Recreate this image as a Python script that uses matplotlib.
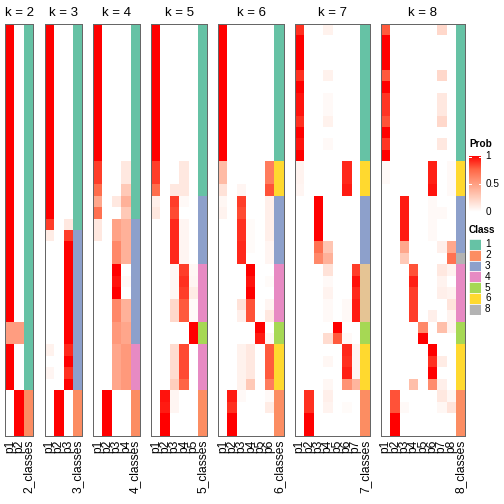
import numpy as np
import matplotlib
matplotlib.use("Agg")
import matplotlib.pyplot as plt
from matplotlib.colors import LinearSegmentedColormap

plt.rcParams['font.family'] = ['Liberation Sans', 'DejaVu Sans']

# membership probabilities, one list per column (36 samples, top to bottom)
k2_p1 = [1,1,1,1,1,1,1,1,1,1,1,1, 1,1,1,1,1,1,1,1,1,1,1,1, 1,1,.5,.5,1,1,1,1,0,0,0,0]
k2_p2 = [0,0,0,0,0,0,0,0,0,0,0,0, 0,0,0,0,0,0,0,0,0,0,0,0, 0,0,.5,.5,0,0,0,0,1,1,1,1]
k2_cls = [1,1,1,1,1,1,1,1,1,1,1,1, 1,1,1,1,1,1,1,1,1,1,1,1, 1,1,1,1,1,1,1,1,2,2,2,2]

k3_p1 = [1,1,1,1,1,1,1,1,1,1,1,1, 1,1,1,1,1,.85,.1,0,0,0,0,0, 0,0,0,0,.07,0,.05,0,0,0,0,0]
k3_p2 = [0,0,0,0,0,0,0,0,0,0,0,0, 0,0,0,0,0,0,0,0,0,0,0,0, 0,0,0,0,0,0,0,0,1,1,1,1]
k3_p3 = [0,0,0,0,0,0,0,0,0,0,0,0, 0,0,0,0,0,.12,.85,1,1,1,1,1, 1,1,1,1,.9,1,.88,1,0,0,0,0]
k3_cls = [1,1,1,1,1,1,1,1,1,1,1,1, 1,1,1,1,1,1,3,3,3,3,3,3, 3,3,3,3,3,3,3,3,2,2,2,2]

k4_p1 = [1,1,1,1,1,1,1,1,1,1,1,1, .85,.85,.72,.45,.7,.12,.12,0,0,0,0,0, 0,0,0,0,0,0,0,0,0,0,0,0]
k4_p2 = [0,0,0,0,0,0,0,0,0,0,0,0, 0,0,0,0,0,0,0,0,0,0,0,0, 0,0,0,0,0,0,0,0,1,1,1,1]
k4_p3 = [0,0,0,0,0,0,0,0,0,0,0,0, 0,0,0,.12,0,.48,.48,.6,.6,1,.95,1, .6,.6,.52,.52,.46,.46,.46,.46,0,0,0,0]
k4_p4 = [0,0,0,0,0,0,0,0,0,0,0,0, .12,.12,.28,.4,.28,.4,.4,.4,.4,0,.03,0, .4,.4,.46,.46,.52,.52,.52,.52,0,0,0,0]
k4_cls = [1,1,1,1,1,1,1,1,1,1,1,1, 1,1,1,1,1,3,3,3,3,3,3,3, 3,3,3,3,4,4,4,4,2,2,2,2]

k5_p1 = [1,1,1,1,1,1,1,1,1,1,1,1, .85,.85,.72,.08,.12,0,0,0,0,0,0,0, 0,0,0,0,0,0,0,0,0,0,0,0]
k5_p2 = [0,0,0,0,0,0,0,0,0,0,0,0, 0,0,0,0,0,0,0,0,0,0,0,0, 0,0,0,0,0,0,0,0,.95,.93,1,1]
k5_p3 = [0,0,0,0,0,0,0,0,0,0,0,0, 0,0,.12,.85,.82,.9,.9,.9,.9,.04,.04,.04, .2,.2,0,0,.18,.18,.18,.25,.05,.05,0,0]
k5_p4 = [0,0,0,0,0,0,0,0,0,0,0,0, .12,.12,.12,.03,0,.05,.05,.05,.05,.85,.88,.85, .78,.78,0,0,.82,.82,.82,.75,0,0,0,0]
k5_p5 = [0,0,0,0,0,0,0,0,0,0,0,0, 0,0,0,0,0,0,0,0,0,.04,.05,.1, .02,.02,1,1,0,0,0,0,0,0,0,0]
k5_cls = [1,1,1,1,1,1,1,1,1,1,1,1, 1,1,1,3,3,3,3,3,3,4,4,4, 4,4,5,5,4,4,4,4,2,2,2,2]

k6_p1 = [1,1,1,1,1,1,1,1,1,1,1,1, .35,.35,.15,.04,.06,0,0,0,0,0,0,0, 0,0,0,0,0,0,0,0,0,0,0,0]
k6_p2 = [0,0,0,0,0,0,0,0,0,0,0,0, 0,0,0,0,0,0,0,0,0,0,0,0, 0,0,0,0,0,0,0,0,.93,.88,1,1]
k6_p3 = [0,0,0,0,0,0,0,0,0,0,0,0, 0,0,.05,.85,.82,.88,.88,.9,.9,0,0,0, .15,.08,0,0,.07,.07,.07,.07,.03,0,0,0]
k6_p4 = [0,0,0,0,0,0,0,0,0,0,0,0, 0,0,0,0,0,.02,.02,.02,0,1,.95,1, .8,.8,0,0,.12,.12,.12,.28,0,0,0,0]
k6_p5 = [0,0,0,0,0,0,0,0,0,0,0,0, 0,0,0,0,0,0,0,0,0,0,0,0, 0,0,1,.93,0,0,0,0,0,0,0,0]
k6_p6 = [0,0,0,0,0,0,0,0,0,0,0,0, .65,.65,.8,.08,.08,.08,.08,.05,.05,0,.02,0, .05,.12,0,.04,.78,.78,.78,.65,.03,.1,0,0]
k6_cls = [1,1,1,1,1,1,1,1,1,1,1,1, 6,6,6,3,3,3,3,3,3,4,4,4, 4,4,5,5,6,6,6,6,2,2,2,2]

k7_p1 = [.88,1,1,1,.88,1,.95,.95,.88,1,.95,1, .06,.06,.05,0,0,0,0,0,0,0,0,0, 0,0,0,0,0,0,0,0,0,0,0,0]
k7_p2 = [0,0,0,0,0,0,0,0,0,0,0,0, 0,0,0,0,0,0,0,0,0,0,0,0, 0,0,0,0,0,0,0,0,.88,.88,1,1]
k7_p3 = [0,0,0,0,0,0,0,0,0,0,0,0, 0,0,0,1,1,1,1,.7,.6,0,0,0, 0,0,0,0,0,0,0,0,0,0,0,0]
k7_p4 = [.07,0,0,0,.07,0,.03,.03,.07,0,.03,0, 0,0,0,0,0,0,0,.3,.4,.15,.03,.06, .03,.03,0,.18,0,.04,0,.04,.08,.06,0,0]
k7_p5 = [0,0,0,0,0,0,0,0,0,0,0,0, 0,0,0,0,0,0,0,0,0,0,0,0, 0,0,1,.78,0,0,0,0,0,0,0,0]
k7_p6 = [0,0,0,0,0,0,0,0,0,0,0,0, .9,.9,.93,0,0,0,0,0,0,0,0,0, .03,.03,0,.03,.9,.88,.92,.55,0,.02,0,0]
k7_p7 = [0,0,0,0,0,0,0,0,0,0,0,0, 0,0,0,0,0,0,0,0,0,.85,.96,.9, .93,.93,0,0,.05,.05,.05,.38,0,0,0,0]
k7_cls = [1,1,1,1,1,1,1,1,1,1,1,1, 6,6,6,3,3,3,3,3,3,7,7,7, 7,7,5,5,6,6,6,6,2,2,2,2]

k8_p1 = [.78,1,1,1,.78,1,.87,.87,.8,1,.87,1, .03,.03,0,0,0,0,0,0,0,0,0,0, 0,0,0,0,0,0,0,0,0,0,0,0]
k8_p2 = [0,0,0,0,0,0,0,0,0,0,0,0, 0,0,0,0,0,0,0,0,0,0,0,0, 0,0,0,0,0,0,0,0,.8,.8,1,1]
k8_p3 = [0,0,0,0,0,0,0,0,0,0,0,0, 0,0,0,.93,.93,.93,.93,.45,.28,0,0,0, 0,0,0,0,0,0,0,0,0,.03,0,0]
k8_p4 = [0,0,0,0,0,0,0,0,0,0,0,0, 0,0,0,0,0,0,0,0,0,.8,.92,.85, .85,.85,0,0,0,0,0,.33,0,0,0,0]
k8_p5 = [0,0,0,0,0,0,0,0,0,0,0,0, 0,0,0,0,0,0,0,0,0,0,0,0, 0,0,.6,1,0,0,0,0,0,0,0,0]
k8_p6 = [0,0,0,0,0,0,0,0,0,0,0,0, .92,.92,.95,.03,.03,.03,.03,0,0,0,0,0, 0,.08,0,0,1,.88,1,.58,0,0,0,0]
k8_p7 = [.2,0,0,0,.2,0,.12,.12,.2,0,.12,0, 0,0,0,0,.03,0,0,.08,0,.12,.06,.08, 0,0,.33,0,0,.1,0,.08,.12,.04,0,0]
k8_p8 = [0,0,0,0,0,0,0,0,0,0,0,0, .03,.03,.03,0,0,0,0,.45,.7,.06,0,.06, .14,.06,.06,0,0,0,0,0,.04,.14,0,0]
k8_cls = [1,1,1,1,1,1,1,1,1,1,1,1, 6,6,6,3,3,3,3,3,8,4,4,4, 4,4,5,5,6,6,6,6,2,2,2,2]

panels = [
    (2, [k2_p1, k2_p2], k2_cls),
    (3, [k3_p1, k3_p2, k3_p3], k3_cls),
    (4, [k4_p1, k4_p2, k4_p3, k4_p4], k4_cls),
    (5, [k5_p1, k5_p2, k5_p3, k5_p4, k5_p5], k5_cls),
    (6, [k6_p1, k6_p2, k6_p3, k6_p4, k6_p5, k6_p6], k6_cls),
    (7, [k7_p1, k7_p2, k7_p3, k7_p4, k7_p5, k7_p6, k7_p7], k7_cls),
    (8, [k8_p1, k8_p2, k8_p3, k8_p4, k8_p5, k8_p6, k8_p7, k8_p8], k8_cls),
]

class_colors = {1: '#66C2A5', 2: '#FC8D62', 3: '#8DA0CB', 4: '#E78AC3',
                5: '#A6D854', 6: '#FFD92F', 7: '#E5C494', 8: '#B3B3B3'}
legend_classes = [1, 2, 3, 4, 5, 6, 8]

# white -> red, interpolated in LAB like ComplexHeatmap does
prob_cmap = LinearSegmentedColormap.from_list(
    'prob', [(0, '#FFFFFF'), (.25, '#FFCFBE'), (.5, '#FF9E81'),
             (.75, '#FF6746'), (1, '#FF0000')])

W = H = 504
fig = plt.figure(figsize=(7, 7), dpi=72)


def px_axes(x0, y0, w, h):
    return fig.add_axes([x0 / W, 1 - (y0 + h) / H, w / W, h / H])


col_w = 9.33
gap = 11.3
top, bottom = 24, 436
x = 5.3
for k, cols, cls in panels:
    n = len(cols)
    w = (n + 1) * col_w
    ax = px_axes(x, top, w, bottom - top)
    prob = np.array(cols).T
    ax.imshow(prob, cmap=prob_cmap, vmin=0, vmax=1, aspect='auto',
              interpolation='nearest', extent=(0, n, len(cls), 0))
    cls_rgb = np.array([[matplotlib.colors.to_rgb(class_colors[c])] for c in cls])
    ax.imshow(cls_rgb, aspect='auto', interpolation='nearest',
              extent=(n, n + 1, len(cls), 0))
    ax.set_xlim(0, n + 1)
    ax.set_ylim(len(cls), 0)
    ax.set_yticks([])
    labels = ['p%d' % (i + 1) for i in range(n)] + ['%d_classes' % k]
    ax.set_xticks(np.arange(n + 1) + 0.5)
    ax.set_xticklabels(labels, rotation=90, fontsize=12)
    ax.tick_params(length=0, pad=4)
    for s in ax.spines.values():
        s.set_color('#666666')
        s.set_linewidth(1)
    ax.set_title('k = %d' % k, fontsize=13.2, pad=8)
    x += w + gap

# Prob legend
fig.text(469 / W, 1 - 147 / H, 'Prob', fontsize=10, fontweight='bold')
cax = px_axes(469, 156, 12, 56)
grad = np.linspace(1, 0, 100).reshape(-1, 1)
cax.imshow(grad, cmap=prob_cmap, vmin=0, vmax=1, aspect='auto', extent=(0, 1, 0, 1))
cax.set_xlim(0, 1)
cax.set_ylim(0, 1)
cax.axis('off')
for v in [0.5, 0.98]:
    cax.plot([0, 0.2], [v, v], color='white', lw=1)
    cax.plot([0.8, 1], [v, v], color='white', lw=1)
for v, lab in [(1.0, '1'), (0.5, '0.5'), (0.0, '0')]:
    cax.text(1.35, v, lab, fontsize=10, va='center', ha='left', transform=cax.transAxes)

# Class legend
fig.text(469 / W, 1 - 233 / H, 'Class', fontsize=10, fontweight='bold')
box_h = 10.8
for i, c in enumerate(legend_classes):
    y0 = 239 + i * box_h
    bax = px_axes(469, y0, 12, box_h)
    bax.set_facecolor(class_colors[c])
    bax.set_xticks([])
    bax.set_yticks([])
    for s in bax.spines.values():
        s.set_color('white')
        s.set_linewidth(0.8)
    fig.text(485 / W, 1 - (y0 + box_h / 2) / H, str(c), fontsize=10, va='center')

fig.savefig('out.png', dpi=72)
